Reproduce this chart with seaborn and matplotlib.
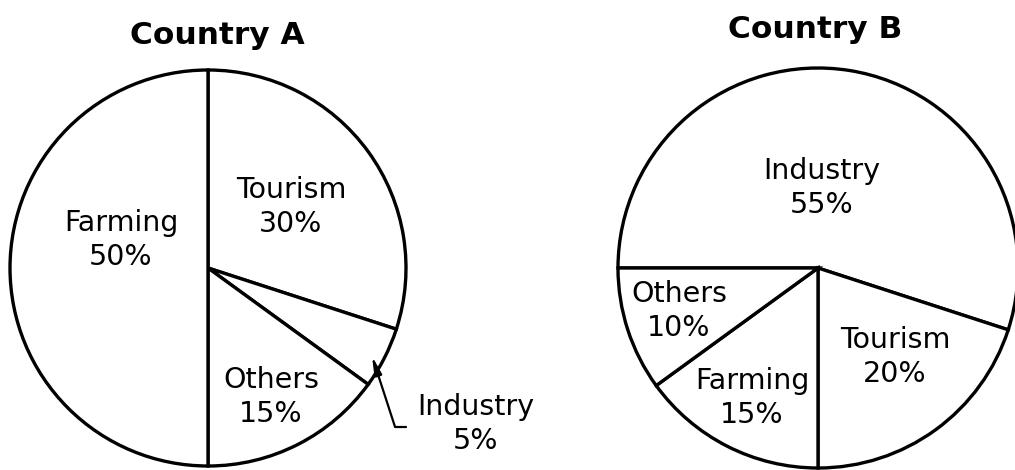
import matplotlib
matplotlib.use("Agg")
import matplotlib.pyplot as plt
import seaborn as sns

# data
a_sectors = ["Tourism", "Industry", "Others", "Farming"]
a_values = [30, 5, 15, 50]
b_sectors = ["Industry", "Tourism", "Farming", "Others"]
b_values = [55, 20, 15, 10]

W, H = 1015, 470

sns.set_theme(style="white")
plt.rcParams['font.family'] = ['DejaVu Sans']

fig = plt.figure(figsize=(W / 100, H / 100), dpi=100)
ax = fig.add_axes([0, 0, 1, 1])


def py(y):
    # pixel row -> data y
    return H - y


wedge_kw = dict(edgecolor="black", linewidth=2.4, facecolor="white")

# Country A
ax.pie(a_values, colors=["white"] * len(a_values), startangle=90, counterclock=False,
       center=(208, py(268)), radius=198, wedgeprops=wedge_kw)
# Country B
ax.pie(b_values, colors=["white"] * len(b_values), startangle=180, counterclock=False,
       center=(818, py(268)), radius=200, wedgeprops=wedge_kw)

ax.set_xlim(0, W)
ax.set_ylim(0, H)
ax.set_aspect("equal")
ax.axis("off")

title_kw = dict(fontsize=22.5, fontweight="bold", ha="center", va="center", color="black")
ax.text(217, py(36), "Country A", **title_kw)
ax.text(815, py(30), "Country B", **title_kw)

lab_kw = dict(fontsize=20.5, ha="center", va="center", linespacing=1.3, color="black")
label_pos_a = {"Farming": (121, 240), "Tourism": (291, 207), "Others": (271, 397)}
for name, val in zip(a_sectors, a_values):
    if name in label_pos_a:
        x, y = label_pos_a[name]
        ax.text(x, py(y), f"{name}\n{val}%", **lab_kw)

# Industry slice in A is labelled outside with a pointer
ind = a_sectors.index("Industry")
ax.text(476, py(424), f"{a_sectors[ind]}\n{a_values[ind]}%", **lab_kw)
ax.annotate("", xy=(372, py(356)), xytext=(406, py(427)),
            arrowprops=dict(arrowstyle="-|>,head_length=0.9,head_width=0.18",
                            connectionstyle="angle,angleA=0,angleB=108,rad=0",
                            color="black", lw=1.6, shrinkA=0, shrinkB=0))

label_pos_b = {"Industry": (822, 188), "Others": (679, 311),
               "Farming": (752, 398), "Tourism": (895, 357)}
for name, val in zip(b_sectors, b_values):
    x, y = label_pos_b[name]
    ax.text(x, py(y), f"{name}\n{val}%", **lab_kw)

fig.savefig("out.png", dpi=100)
